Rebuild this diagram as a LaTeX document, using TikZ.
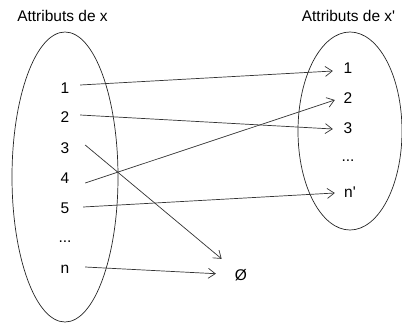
\documentclass[tikz,border=0pt]{standalone}
\usepackage{fontspec}
\setmainfont{Liberation Sans}
\usetikzlibrary{arrows.meta}
\begin{document}
\begin{tikzpicture}[x=1pt,y=-1pt,
  lab/.style={font=\fontsize{15.5}{17}\selectfont, inner sep=0pt, minimum width=30pt, minimum height=14pt},
  ttl/.style={font=\fontsize{15.5}{18}\selectfont, inner sep=0pt},
  conn/.style={draw=black!80, line width=0.7pt, -{Straight Barb[length=7pt,width=10pt]}},
  setline/.style={draw=black!85, line width=0.7pt}]
\useasboundingbox (0,0) rectangle (402,325);
\draw[setline] (65,177) ellipse [x radius=53, y radius=145];
\draw[setline] (350,131) ellipse [x radius=52, y radius=99];
\node[ttl] (tx) at (62.5,16) {Attributs de x};
\node[ttl] (txp) at (348.5,16) {Attributs de x\textquotesingle};
\node[lab] (l1) at (65,88) {1};
\node[lab] (l2) at (65,117) {2};
\node[lab] (l3) at (65,148) {3};
\node[lab] (l4) at (65,178) {4};
\node[lab] (l5) at (65,208) {5};
\node[lab] (ld) at (65,242) {...};
\node[lab] (ln) at (65,269) {n};
\node[lab] (r1) at (348,68) {1};
\node[lab] (r2) at (348,98) {2};
\node[lab] (r3) at (348,128) {3};
\node[lab] (rd) at (348,161) {...};
\node[lab] (rn) at (350,192) {n\textquotesingle};
\node[circle, inner sep=0pt, minimum size=50pt, font=\fontsize{15.5}{17}\selectfont] (e) at (241,275) {Ø};
\draw[conn] ([yshift=3pt]l1.east) -- ([yshift=-3pt]r1.west);
\draw[conn] ([yshift=2pt]l2.east) -- ([yshift=-1pt]r3.west);
\draw[conn] ([xshift=5pt,yshift=3pt]l3.east) -- (e);
\draw[conn] ([xshift=5pt,yshift=-5pt]l4.east) -- ([xshift=2pt,yshift=-2pt]r2.west);
\draw[conn] ([xshift=3pt,yshift=1pt]l5.east) -- ([yshift=-1pt]rn.west);
\draw[conn] ([xshift=5pt,yshift=2pt]ln.east) -- (e);
\end{tikzpicture}
\end{document}
